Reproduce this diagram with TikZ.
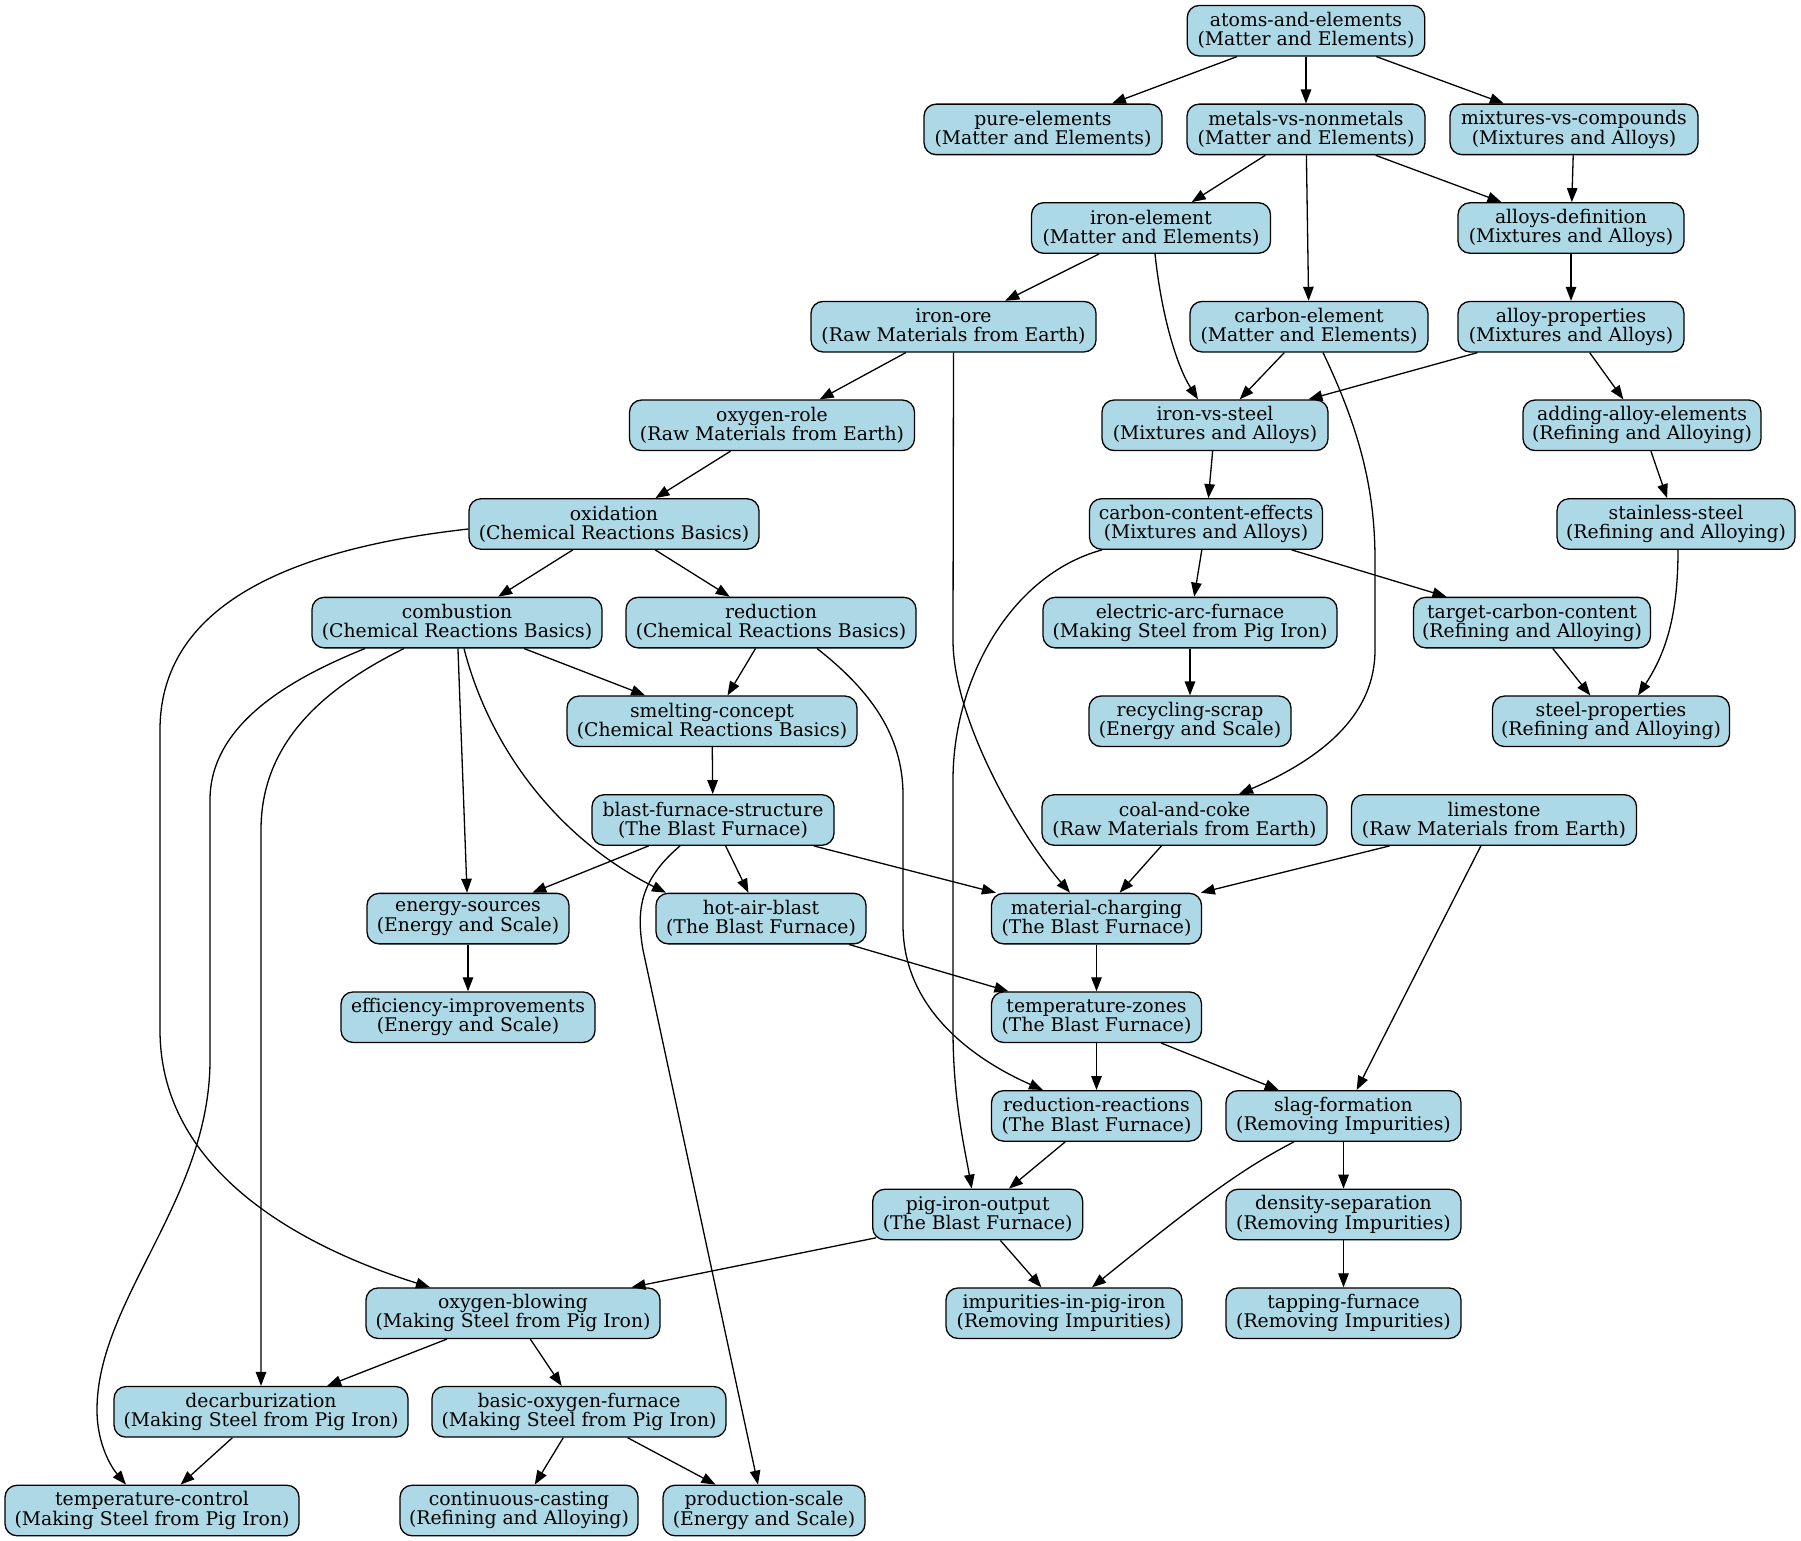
\documentclass[tikz,border=0pt]{standalone}
\usepackage{fontspec}
\setmainfont{DejaVu Serif}
\usetikzlibrary{arrows.meta,calc}
\definecolor{lb}{HTML}{ADD8E6}
\begin{document}
\begin{tikzpicture}[x=1pt,y=-1pt,
  box/.style={draw=black, line width=1.3pt, fill=lb, rounded corners=12pt, align=center,
    minimum height=50.5pt, inner xsep=2pt, inner ysep=0pt,
    font=\fontsize{18.8}{19.2}\selectfont},
  edge/.style={line width=1.3pt, draw=black, -{Triangle[length=14pt,width=10.5pt]}}]
\useasboundingbox (0,0) rectangle (1801,1541);
% rows
\def\rA{30.7}\def\rB{129.4}\def\rC{228}\def\rD{326.7}\def\rE{425.3}\def\rF{524}
\def\rG{622.6}\def\rH{721.3}\def\rI{820}\def\rJ{918.6}\def\rK{1017.2}\def\rL{1115.9}
\def\rM{1214.5}\def\rN{1313.2}\def\rO{1411.8}\def\rP{1510.5}
% nodes
\node[box, minimum width=237.5pt] (atoms) at (1306,\rA) {atoms-and-elements\\(Matter and Elements)};
\node[box, minimum width=238pt] (pure) at (1043,\rB) {pure-elements\\(Matter and Elements)};
\node[box, minimum width=238pt] (metals) at (1306,\rB) {metals-vs-nonmetals\\(Matter and Elements)};
\node[box, minimum width=248pt] (mixtures) at (1574,\rB) {mixtures-vs-compounds\\(Mixtures and Alloys)};
\node[box, minimum width=239pt] (ironel) at (1151,\rC) {iron-element\\(Matter and Elements)};
\node[box, minimum width=226pt] (alloysdef) at (1571,\rC) {alloys-definition\\(Mixtures and Alloys)};
\node[box, minimum width=285pt] (ironore) at (953.5,\rD) {iron-ore\\(Raw Materials from Earth)};
\node[box, minimum width=238pt] (carbonel) at (1309,\rD) {carbon-element\\(Matter and Elements)};
\node[box, minimum width=226pt] (alloyprop) at (1571,\rD) {alloy-properties\\(Mixtures and Alloys)};
\node[box, minimum width=285pt] (oxyrole) at (772,\rE) {oxygen-role\\(Raw Materials from Earth)};
\node[box, minimum width=226pt] (ironvssteel) at (1215,\rE) {iron-vs-steel\\(Mixtures and Alloys)};
\node[box, minimum width=238pt] (adding) at (1642,\rE) {adding-alloy-elements\\(Refining and Alloying)};
\node[box, minimum width=290pt] (oxidation) at (614,\rF) {oxidation\\(Chemical Reactions Basics)};
\node[box, minimum width=233pt] (cce) at (1206,\rF) {carbon-content-effects\\(Mixtures and Alloys)};
\node[box, minimum width=238pt] (stainless) at (1676,\rF) {stainless-steel\\(Refining and Alloying)};
\node[box, minimum width=290pt] (combustion) at (457,\rG) {combustion\\(Chemical Reactions Basics)};
\node[box, minimum width=290pt] (reduction) at (771,\rG) {reduction\\(Chemical Reactions Basics)};
\node[box, minimum width=294pt] (eaf) at (1190,\rG) {electric-arc-furnace\\(Making Steel from Pig Iron)};
\node[box, minimum width=237pt] (target) at (1532,\rG) {target-carbon-content\\(Refining and Alloying)};
\node[box, minimum width=290pt] (smelting) at (712,\rH) {smelting-concept\\(Chemical Reactions Basics)};
\node[box, minimum width=202pt] (recycling) at (1190,\rH) {recycling-scrap\\(Energy and Scale)};
\node[box, minimum width=237pt] (steelprops) at (1611,\rH) {steel-properties\\(Refining and Alloying)};
\node[box, minimum width=242pt] (blast) at (713,\rI) {blast-furnace-structure\\(The Blast Furnace)};
\node[box, minimum width=285pt] (coal) at (1184.5,\rI) {coal-and-coke\\(Raw Materials from Earth)};
\node[box, minimum width=285pt] (limestone) at (1494,\rI) {limestone\\(Raw Materials from Earth)};
\node[box, minimum width=202pt] (energy) at (468,\rJ) {energy-sources\\(Energy and Scale)};
\node[box, minimum width=210pt] (hotair) at (761,\rJ) {hot-air-blast\\(The Blast Furnace)};
\node[box, minimum width=210pt] (matcharge) at (1096.5,\rJ) {material-charging\\(The Blast Furnace)};
\node[box, minimum width=254pt] (efficiency) at (468,\rK) {efficiency-improvements\\(Energy and Scale)};
\node[box, minimum width=210pt] (tempzones) at (1096.5,\rK) {temperature-zones\\(The Blast Furnace)};
\node[box, minimum width=210pt] (redreact) at (1096.5,\rL) {reduction-reactions\\(The Blast Furnace)};
\node[box, minimum width=235pt] (slag) at (1343.5,\rL) {slag-formation\\(Removing Impurities)};
\node[box, minimum width=210pt] (pig) at (977.7,\rM) {pig-iron-output\\(The Blast Furnace)};
\node[box, minimum width=235pt] (density) at (1343.5,\rM) {density-separation\\(Removing Impurities)};
\node[box, minimum width=294pt] (oxyblow) at (513,\rN) {oxygen-blowing\\(Making Steel from Pig Iron)};
\node[box, minimum width=236pt] (impurities) at (1064,\rN) {impurities-in-pig-iron\\(Removing Impurities)};
\node[box, minimum width=235pt] (tapping) at (1343.5,\rN) {tapping-furnace\\(Removing Impurities)};
\node[box, minimum width=294pt] (decarb) at (261,\rO) {decarburization\\(Making Steel from Pig Iron)};
\node[box, minimum width=294pt] (bof) at (579,\rO) {basic-oxygen-furnace\\(Making Steel from Pig Iron)};
\node[box, minimum width=294pt] (tempcontrol) at (152,\rP) {temperature-control\\(Making Steel from Pig Iron)};
\node[box, minimum width=238pt] (continuous) at (519,\rP) {continuous-casting\\(Refining and Alloying)};
\node[box, minimum width=202pt] (production) at (764,\rP) {production-scale\\(Energy and Scale)};
% straight edges
\foreach \a/\b in {atoms/pure, atoms/metals, atoms/mixtures, metals/ironel, metals/carbonel,
  metals/alloysdef, mixtures/alloysdef, ironel/ironore, alloysdef/alloyprop, ironore/oxyrole,
  carbonel/ironvssteel, alloyprop/ironvssteel, alloyprop/adding, oxyrole/oxidation,
  ironvssteel/cce, adding/stainless, oxidation/combustion, oxidation/reduction, cce/eaf,
  cce/target, eaf/recycling, target/steelprops, combustion/smelting, combustion/energy,
  reduction/smelting, smelting/blast, blast/energy, blast/hotair, blast/matcharge,
  energy/efficiency, coal/matcharge, limestone/matcharge, limestone/slag, hotair/tempzones,
  matcharge/tempzones, tempzones/redreact, tempzones/slag, redreact/pig, slag/density,
  density/tapping, pig/impurities, oxyblow/decarb, oxyblow/bof, decarb/tempcontrol,
  bof/continuous, bof/production}
  \draw[edge] (\a) -- (\b);
% curved edges
\draw[edge] ([xshift=4pt]ironel.south) .. controls (1162,320) and (1178,368) .. ([xshift=-17pt]ironvssteel.north);
\draw[edge] (ironore.south) -- (953,640) .. controls (953,720) and (1020,835) .. ([xshift=-26.5pt]matcharge.north);
\draw[edge] ([xshift=14pt]carbonel.south) .. controls (1360,430) and (1375,490) .. (1375,560) -- (1375,650) .. controls (1375,710) and (1330,755) .. ([xshift=54.5pt]coal.north);
\draw[edge] ([yshift=-5pt]oxidation.west) .. controls (280,550) and (160,610) .. (160,730) -- (160,1030) .. controls (160,1160) and (280,1240) .. ([xshift=-83pt]oxyblow.north);
\draw[edge] ([xshift=-104pt]cce.south) .. controls (1010,575) and (953,680) .. (953,780) -- (953,1030) .. controls (953,1100) and (965,1150) .. ([xshift=-6pt]pig.north);
\draw[edge] ([xshift=2pt]stainless.south) .. controls (1678,610) and (1668,650) .. ([xshift=27pt]steelprops.north);
\draw[edge] ([xshift=7pt]combustion.south) .. controls (490,750) and (560,840) .. ([xshift=-95pt]hotair.north);
\draw[edge] ([xshift=-53pt]combustion.south) .. controls (320,690) and (261,745) .. (261,830) -- (decarb.north);
\draw[edge] ([xshift=-92pt]combustion.south) .. controls (300,675) and (210,720) .. (210,800) -- (210,1060) .. controls (210,1200) and (97,1300) .. (97,1410) .. controls (97,1445) and (112,1468) .. ([xshift=-26pt]tempcontrol.north);
\draw[edge] ([xshift=46pt]reduction.south) .. controls (870,690) and (903,735) .. (903,795) -- (903,925) .. controls (903,1010) and (975,1060) .. ([xshift=-53.5pt]redreact.north);
\draw[edge] ([xshift=-33pt]blast.south) .. controls (640,880) and (636,910) .. (643,950) -- ([xshift=-6pt]production.north);
\draw[edge] ([xshift=-49.5pt]slag.south) .. controls (1240,1170) and (1200,1200) .. ([xshift=28pt]impurities.north);
\draw[edge] ([xshift=-101.7pt,yshift=2.6pt]pig.south) -- ([xshift=118.5pt]oxyblow.north);
\end{tikzpicture}
\end{document}
